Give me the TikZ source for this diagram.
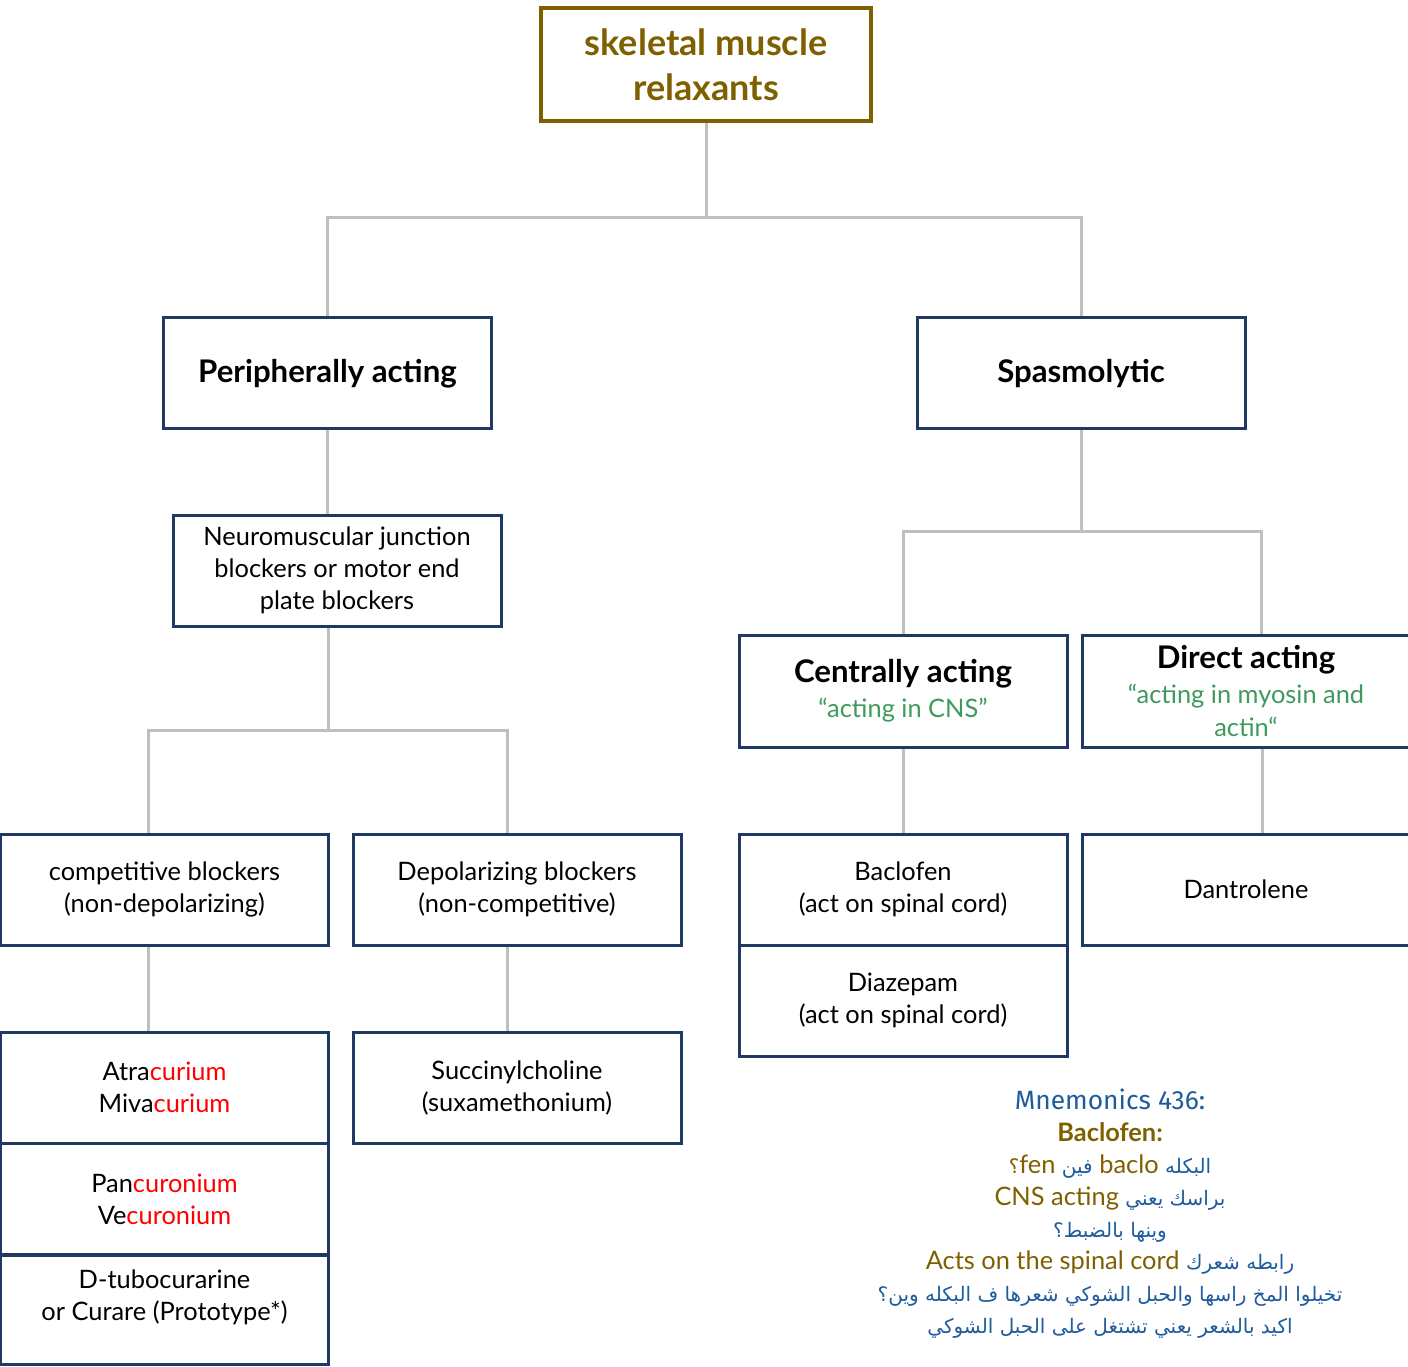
\documentclass[tikz,border=0pt]{standalone}
\usepackage{fontspec}
\setmainfont{Lato}
\newfontfamily\arabicfont[Script=Arabic]{DejaVu Sans}
\newfontfamily\mnfont{Fira Sans}
\TeXXeTstate=1
\definecolor{brn}{HTML}{7F6000}
\definecolor{navy}{HTML}{1F3864}
\definecolor{conng}{HTML}{BFBFBF}
\definecolor{grn}{HTML}{3F9A5C}
\definecolor{mblue}{HTML}{1F5C9E}
\definecolor{rd}{HTML}{FF0000}
\tikzset{
  box/.style={draw=navy, line width=1.5pt, rectangle, minimum width=164pt, minimum height=55.5pt,
    align=center, inner sep=0pt, font=\fontsize{12.7pt}{16pt}\selectfont, text=black, fill=white},
  headbox/.style={box, font=\fontsize{15.6pt}{16.5pt}\selectfont\bfseries},
  topbox/.style={draw=brn, line width=2pt, rectangle, minimum width=165pt, minimum height=56.5pt,
    align=center, inner sep=0pt, text=brn, font=\fontsize{18pt}{22.5pt}\selectfont\bfseries},
  conn/.style={draw=conng, line width=1.5pt},
  mnem/.style={align=center, inner sep=0pt, font=\fontsize{12.7pt}{16pt}\selectfont},
}
\newcommand{\sub}[1]{{\fontsize{12.7pt}{16pt}\selectfont\mdseries\color{grn}#1}}
\newcommand{\cur}[1]{\textcolor{rd}{#1}}
\newcommand{\ar}[1]{{\arabicfont\fontsize{10pt}{16pt}\selectfont\color{mblue}\beginR #1\endR}}
\begin{document}
\begin{tikzpicture}[x=0.5pt,y=-0.5pt]
\useasboundingbox (0,0) rectangle (1408,1366);
% nodes
\node[topbox] (top) at (706,64.5) {skeletal muscle\\relaxants};
\node[headbox, text depth=2pt] (peri) at (327.5,372.5) {Peripherally acting};
\node[headbox, text depth=2pt] (spas) at (1081,372.5) {Spasmolytic};
\node[box] (nmj) at (337,570.5) {Neuromuscular junction\\blockers or motor end\\plate blockers};
\node[headbox, minimum height=56pt] (cent) at (903,691) {Centrally acting\\[1pt]\sub{“acting in CNS”}};
\node[headbox, minimum height=56pt] (direct) at (1246,691) {Direct acting\\[1pt]\sub{“acting in myosin and}\\\sub{actin“}};
\node[box] (comp) at (164.5,889.5) {competitive blockers\\(non-depolarizing)};
\node[box] (depol) at (517,889.5) {Depolarizing blockers\\(non-competitive)};
\node[box] (bac) at (903,889.5) {Baclofen\\(act on spinal cord)};
\node[box] (diaz) at (903,1000.5) {Diazepam\\(act on spinal cord)};
\node[box] (dant) at (1246,889.5) {Dantrolene};
\node[box] (atra) at (164.5,1087.5) {Atra\cur{curium}\\Miva\cur{curium}};
\node[box] (panc) at (164.5,1199) {Pan\cur{curonium}\\Ve\cur{curonium}};
\node[box, minimum height=54.5pt, text depth=14pt] (dtub) at (164.5,1309.5) {D-tubocurarine\\or Curare (Prototype*)};
\node[box] (succ) at (517,1087.5) {Succinylcholine\\(suxamethonium)};
% junctions
\coordinate (j1) at (706,217);
\coordinate (j2) at (328,730);
\coordinate (j3) at (1081,531);
% connectors
\draw[conn] (top.south) -- (j1);
\draw[conn] (peri.north) |- (j1) -| (spas.north);
\draw[conn] (peri.south) -- (peri.south |- nmj.north);
\draw[conn] ([xshift=-4.5pt]nmj.south) -- (j2);
\draw[conn] ([xshift=-8.25pt]comp.north) |- (j2) -| ([xshift=-5pt]depol.north);
\draw[conn] (spas.south) -- (j3);
\draw[conn] (cent.north) |- (j3) -| ([xshift=7.5pt]direct.north);
\draw[conn] (cent.south) -- (bac.north);
\draw[conn] ([xshift=8pt]direct.south) -- ([xshift=8pt]dant.north);
\draw[conn] ([xshift=-8.25pt]comp.south) -- ([xshift=-8.25pt]atra.north);
\draw[conn] ([xshift=-5pt]depol.south) -- ([xshift=-5pt]succ.north);
% mnemonics
\node[mnem] (mn) at (1110,1214) {%
{\mnfont\fontsize{13.2pt}{16pt}\selectfont\color{mblue}Mnemonics 436:}\\
{\bfseries\color{brn}Baclofen:}\\
{{\arabicfont\fontsize{10pt}{16pt}\selectfont\color{brn}؟}\textcolor{brn}{fen} \ar{فين} \textcolor{brn}{baclo} \ar{البكله}}\\
{\textcolor{brn}{CNS acting} \ar{براسك يعني}}\\
{\ar{وينها بالضبط؟}}\\
{\textcolor{brn}{Acts on the spinal cord} \ar{رابطه شعرك}}\\
{\ar{تخيلوا المخ راسها والحبل الشوكي شعرها ف البكله وين؟}}\\
{\ar{اكيد بالشعر يعني تشتغل على الحبل الشوكي}}%
};
\end{tikzpicture}
\end{document}
